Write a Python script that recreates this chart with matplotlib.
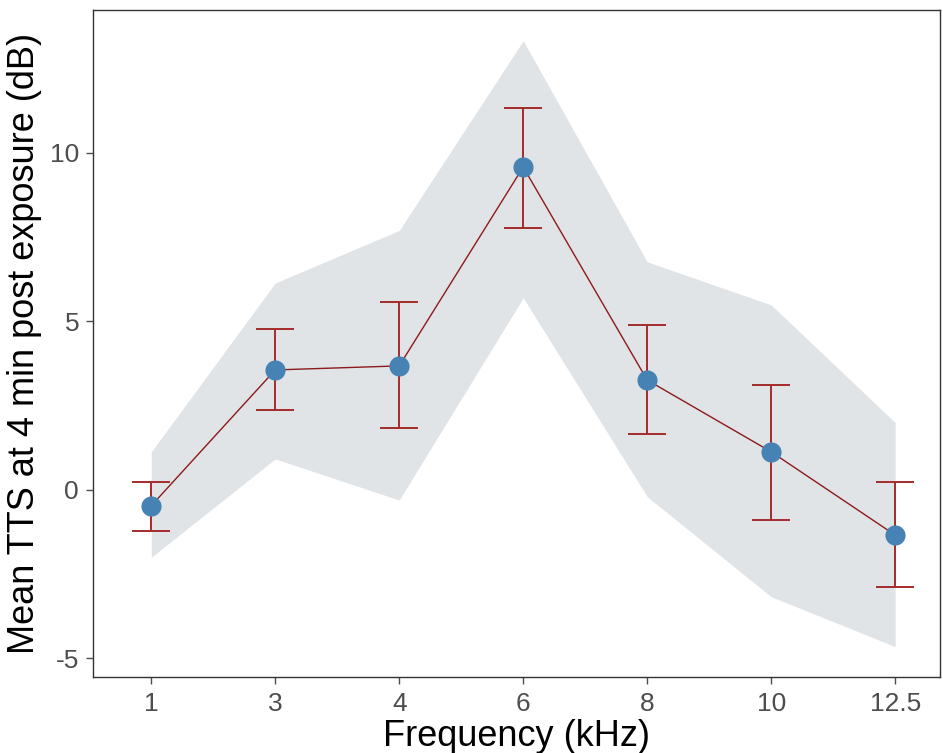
import numpy as np
import matplotlib.pyplot as plt

plt.rcParams['font.family'] = ['Liberation Sans', 'DejaVu Sans']

freq_labels = ["1", "3", "4", "6", "8", "10", "12.5"]
mean_tts = [-0.47, 3.56, 3.68, 9.58, 3.26, 1.13, -1.34]
err_hi = [0.24, 4.78, 5.58, 11.34, 4.90, 3.12, 0.22]
err_lo = [-1.22, 2.37, 1.84, 7.78, 1.66, -0.89, -2.88]
band_hi = [1.13, 6.14, 7.70, 13.33, 6.77, 5.49, 2.00]
band_lo = [-2.00, 0.92, -0.30, 5.70, -0.20, -3.17, -4.65]

x = np.arange(len(freq_labels))
mean = np.array(mean_tts)

fig = plt.figure(figsize=(9.43, 7.53), dpi=100)
ax = fig.add_axes([0.0986, 0.101, 0.898, 0.8857])

ax.fill_between(x, band_lo, band_hi, color="#e1e4e7", linewidth=0, zorder=1)
ax.plot(x, mean, color="#8b1a1a", linewidth=1.0, zorder=2)
ax.errorbar(x, mean, yerr=[mean - np.array(err_lo), np.array(err_hi) - mean],
            fmt="none", ecolor="#a52a2a", elinewidth=1.4, capsize=13.5, capthick=1.4, zorder=3)
ax.plot(x, mean, "o", color="#4682b4", markersize=14.5, markeredgewidth=0, zorder=4)

ax.set_xlim(-0.47, 6.36)
ax.set_ylim(-5.55, 14.24)
ax.set_xticks(x)
ax.set_xticklabels(freq_labels)
ax.set_yticks([-5, 0, 5, 10])
ax.set_yticklabels(["-5", "0", "5", "10"])
ax.tick_params(labelsize=19, colors="#4d4d4d", length=5, width=1, direction="out")
ax.tick_params(axis="x", pad=6)
ax.tick_params(axis="y", pad=5)
for s in ax.spines.values():
    s.set_color("#333333")
    s.set_linewidth(1.0)

ax.set_xlabel("Frequency (kHz)", fontsize=26, labelpad=2)
ax.set_ylabel("Mean TTS at 4 min post exposure (dB)", fontsize=26, labelpad=6)

fig.savefig("out.png", dpi=100)
